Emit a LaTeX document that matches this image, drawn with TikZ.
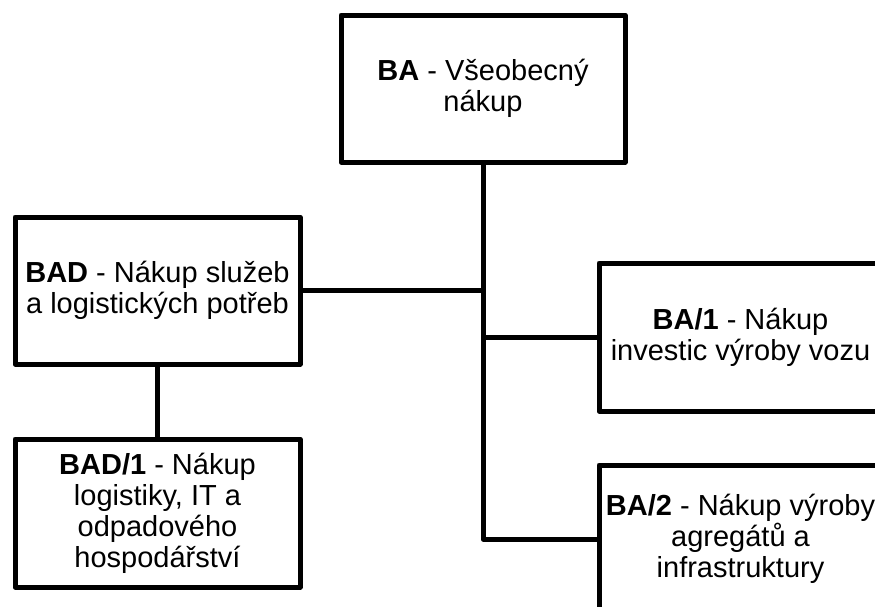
\documentclass[tikz,border=0pt]{standalone}
\usepackage{fontspec}
\setmainfont{Liberation Sans}
\begin{document}
\begin{tikzpicture}[x=1pt, y=-1pt,
  orgbox/.style={draw=black, line width=5pt, line join=round, fill=white,
    rectangle, inner sep=0pt, align=center,
    font=\fontsize{29}{31}\selectfont},
  link/.style={draw=black, line width=5pt, line join=round}]
  % page frame
  \fill[white] (0,0) rectangle (875,606);
  \useasboundingbox (0,0) rectangle (875,606);
  \clip (0,0) rectangle (875,606);

  \node[orgbox, minimum width=284pt, minimum height=147pt] (ba) at (483,88.5)
    {\textbf{BA} - Všeobecný\\nákup};
  \node[orgbox, minimum width=285pt, minimum height=147pt] (bad) at (157.5,290.5)
    {\textbf{BAD} - Nákup služeb\\a logistických potřeb};
  \node[orgbox, minimum width=285pt, minimum height=148pt] (bad1) at (157.5,513)
    {\textbf{BAD/1} - Nákup\\logistiky, IT a\\odpadového\\hospodářství};
  \node[orgbox, minimum width=283pt, minimum height=148pt] (ba1) at (740.5,337)
    {\textbf{BA/1} - Nákup\\investic výroby vozu};
  \node[orgbox, minimum width=283pt, minimum height=148pt] (ba2) at (740.5,539)
    {\textbf{BA/2} - Nákup výroby\\agregátů a\\infrastruktury};

  % tree connectors
  \path[link] (ba.south) |- (ba2.west);
  \path[link] (bad.east) -- (bad.east -| ba.south);
  \path[link] (ba1.west) -- (ba1.west -| ba.south);
  \path[link] (bad.south) -- (bad1.north);
\end{tikzpicture}
\end{document}
